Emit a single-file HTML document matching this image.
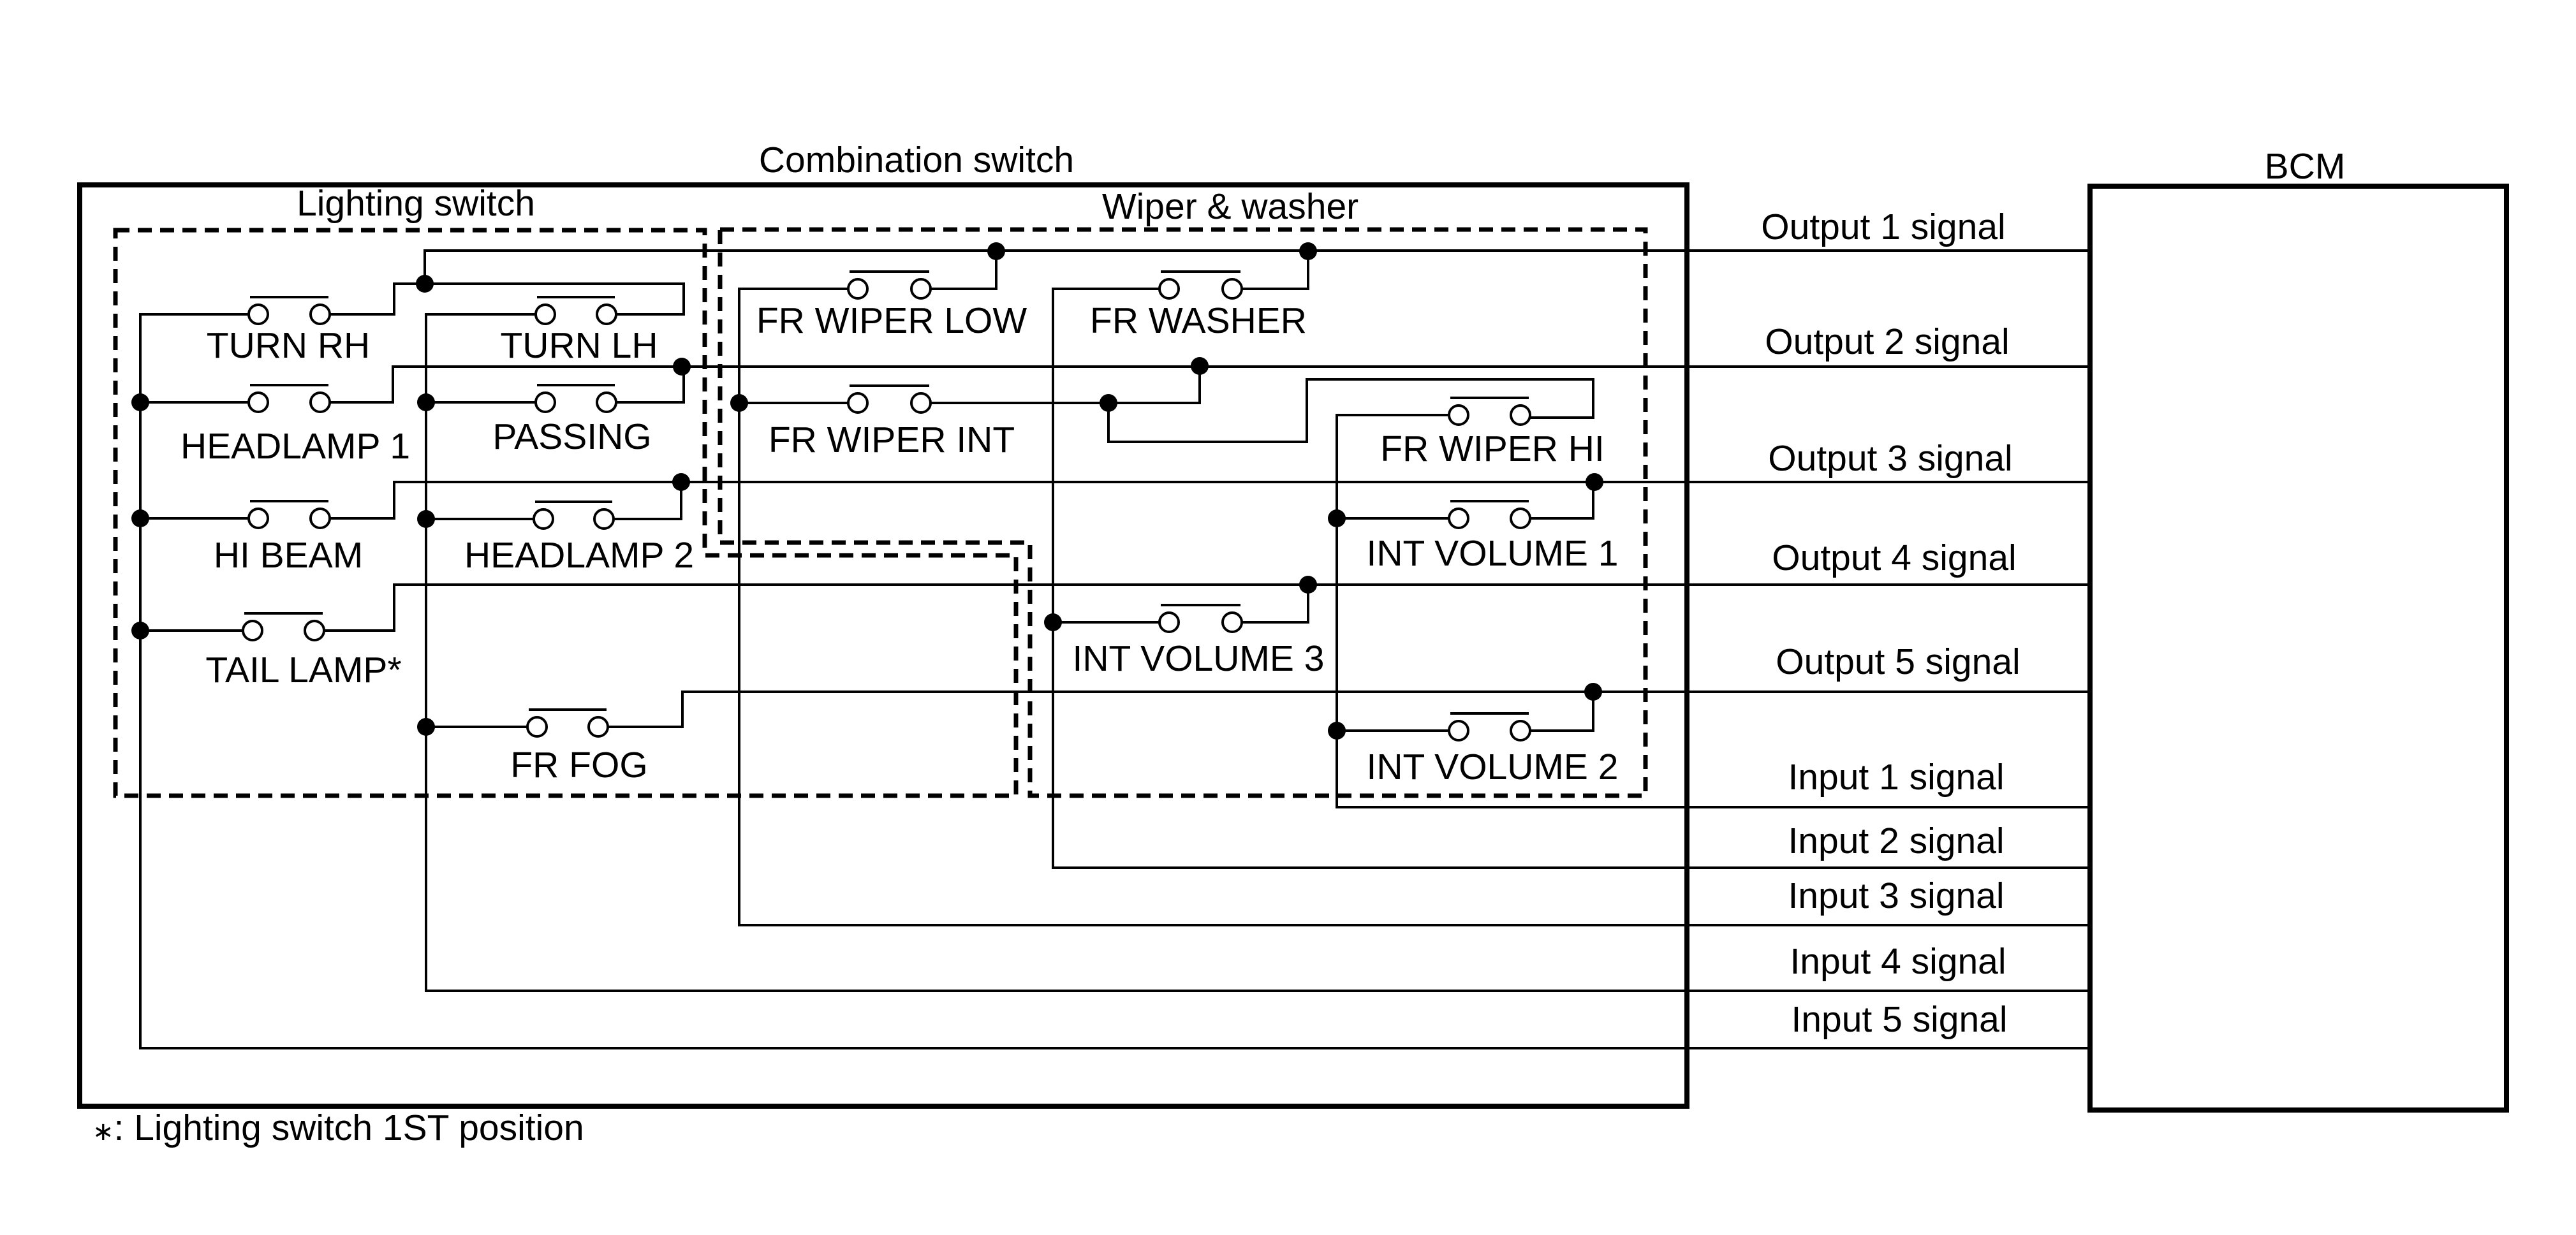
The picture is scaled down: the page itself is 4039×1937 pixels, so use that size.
<!DOCTYPE html>
<html><head><meta charset="utf-8"><style>html,body{margin:0;padding:0;background:#fff}svg{display:block}</style></head><body>
<svg width="4039" height="1937" viewBox="0 0 4039 1937" xmlns="http://www.w3.org/2000/svg" font-family="Liberation Sans, Arial, sans-serif" font-size="57">
<rect width="4039" height="1937" fill="#fff"/>
<g fill="none" stroke="#000">
<rect x="125" y="290" width="2520" height="1445" stroke-width="8"/>
<rect x="3277" y="292" width="653" height="1449" stroke-width="8"/>
<g stroke-width="7" stroke-dasharray="22,13">
<path d="M181 361 H1105 V871 H1593 V1248 H181 Z"/>
<path d="M1129 360 H2580 V1248 H1615 V851 H1129 Z"/>
</g>
<g stroke-width="4">
<path d="M666 445 V393 H3277"/>
<path d="M517 631 H616 V575 H3277"/>
<path d="M517 813 H618 V756 H3277"/>
<path d="M508 989 H618 V917 H3277"/>
<path d="M953 1140 H1070 V1085 H3277"/>
<path d="M2272 651 H2096 V1266 H3277"/>
<path d="M1818 453 H1651 V1361 H3277"/>
<path d="M1330 453 H1159 V1451 H3277"/>
<path d="M840 493 H668 V1554 H3277"/>
<path d="M390 493 H220 V1644 H3277"/>
<path d="M517 493 H618 V445 H1072 V493 H966"/>
<path d="M220 631 H390"/>
<path d="M668 631 H840"/>
<path d="M966 631 H1072 V575"/>
<path d="M220 813 H390"/>
<path d="M668 814 H837"/>
<path d="M962 814 H1068 V756"/>
<path d="M220 989 H381"/>
<path d="M668 1140 H827"/>
<path d="M1459 453 H1562 V394"/>
<path d="M1947 453 H2051 V394"/>
<path d="M1159 632 H1330"/>
<path d="M1459 632 H1881 V574"/>
<path d="M1738 632 V693 H2049 V595 H2498 V655 H2399"/>
<path d="M2096 813 H2272"/>
<path d="M2399 813 H2498 V756"/>
<path d="M1651 976 H1818"/>
<path d="M1947 976 H2051 V917"/>
<path d="M2096 1146 H2272"/>
<path d="M2399 1146 H2498 V1085"/>
<circle cx="405" cy="493" r="15"/><circle cx="502" cy="493" r="15"/>
<circle cx="855" cy="493" r="15"/><circle cx="951" cy="493" r="15"/>
<circle cx="405" cy="631" r="15"/><circle cx="502" cy="631" r="15"/>
<circle cx="855" cy="631" r="15"/><circle cx="951" cy="631" r="15"/>
<circle cx="405" cy="813" r="15"/><circle cx="502" cy="813" r="15"/>
<circle cx="852" cy="814" r="15"/><circle cx="947" cy="814" r="15"/>
<circle cx="396" cy="989" r="15"/><circle cx="493" cy="989" r="15"/>
<circle cx="842" cy="1140" r="15"/><circle cx="938" cy="1140" r="15"/>
<circle cx="1345" cy="453" r="15"/><circle cx="1444" cy="453" r="15"/>
<circle cx="1833" cy="453" r="15"/><circle cx="1932" cy="453" r="15"/>
<circle cx="1345" cy="632" r="15"/><circle cx="1444" cy="632" r="15"/>
<circle cx="2287" cy="651" r="15"/><circle cx="2384" cy="651" r="15"/>
<circle cx="2287" cy="813" r="15"/><circle cx="2384" cy="813" r="15"/>
<circle cx="1833" cy="976" r="15"/><circle cx="1932" cy="976" r="15"/>
<circle cx="2287" cy="1146" r="15"/><circle cx="2384" cy="1146" r="15"/>
<path d="M392 466 H515 M842 466 H964 M392 604 H515 M842 604 H964 M392 786 H515 M839 787 H960 M383 962 H506 M829 1113 H951 M1332 426 H1457 M1820 426 H1945 M1332 605 H1457 M2274 624 H2397 M2274 786 H2397 M1820 949 H1945 M2274 1119 H2397"/>
</g>
</g>
<g fill="#000">
<circle cx="666" cy="445" r="14"/><circle cx="220" cy="631" r="14"/><circle cx="668" cy="631" r="14"/>
<circle cx="1069" cy="575" r="14"/><circle cx="220" cy="813" r="14"/><circle cx="668" cy="814" r="14"/>
<circle cx="1068" cy="756" r="14"/><circle cx="220" cy="989" r="14"/><circle cx="668" cy="1140" r="14"/>
<circle cx="1562" cy="394" r="14"/><circle cx="2051" cy="394" r="14"/><circle cx="1159" cy="632" r="14"/>
<circle cx="1738" cy="632" r="14"/><circle cx="1881" cy="574" r="14"/><circle cx="2500" cy="756" r="14"/>
<circle cx="2096" cy="813" r="14"/><circle cx="2051" cy="917" r="14"/><circle cx="1651" cy="976" r="14"/>
<circle cx="2498" cy="1085" r="14"/><circle cx="2096" cy="1146" r="14"/>
</g>
<g text-anchor="middle" fill="#000">
<text x="1437" y="270">Combination switch</text>
<text x="652" y="338">Lighting switch</text>
<text x="1929" y="343">Wiper &amp; washer</text>
<text x="3614" y="280">BCM</text>
<text x="452" y="561">TURN RH</text>
<text x="908" y="561">TURN LH</text>
<text x="463" y="719">HEADLAMP 1</text>
<text x="897" y="704">PASSING</text>
<text x="452" y="890">HI BEAM</text>
<text x="908" y="890">HEADLAMP 2</text>
<text x="476" y="1070">TAIL LAMP*</text>
<text x="908" y="1219">FR FOG</text>
<text x="1398" y="522">FR WIPER LOW</text>
<text x="1879" y="522">FR WASHER</text>
<text x="1398" y="709">FR WIPER INT</text>
<text x="2340" y="723">FR WIPER HI</text>
<text x="2340" y="887">INT VOLUME 1</text>
<text x="1879" y="1052">INT VOLUME 3</text>
<text x="2340" y="1222">INT VOLUME 2</text>
<text x="2953" y="375">Output 1 signal</text>
<text x="2959" y="555">Output 2 signal</text>
<text x="2964" y="738">Output 3 signal</text>
<text x="2970" y="894">Output 4 signal</text>
<text x="2976" y="1057">Output 5 signal</text>
<text x="2973" y="1238">Input 1 signal</text>
<text x="2973" y="1338">Input 2 signal</text>
<text x="2973" y="1424">Input 3 signal</text>
<text x="2976" y="1527">Input 4 signal</text>
<text x="2978" y="1618">Input 5 signal</text>
</g>
<text x="145" y="1788" fill="#000"><tspan font-size="40">∗</tspan>: Lighting switch 1ST position</text>
</svg>
</body></html>
